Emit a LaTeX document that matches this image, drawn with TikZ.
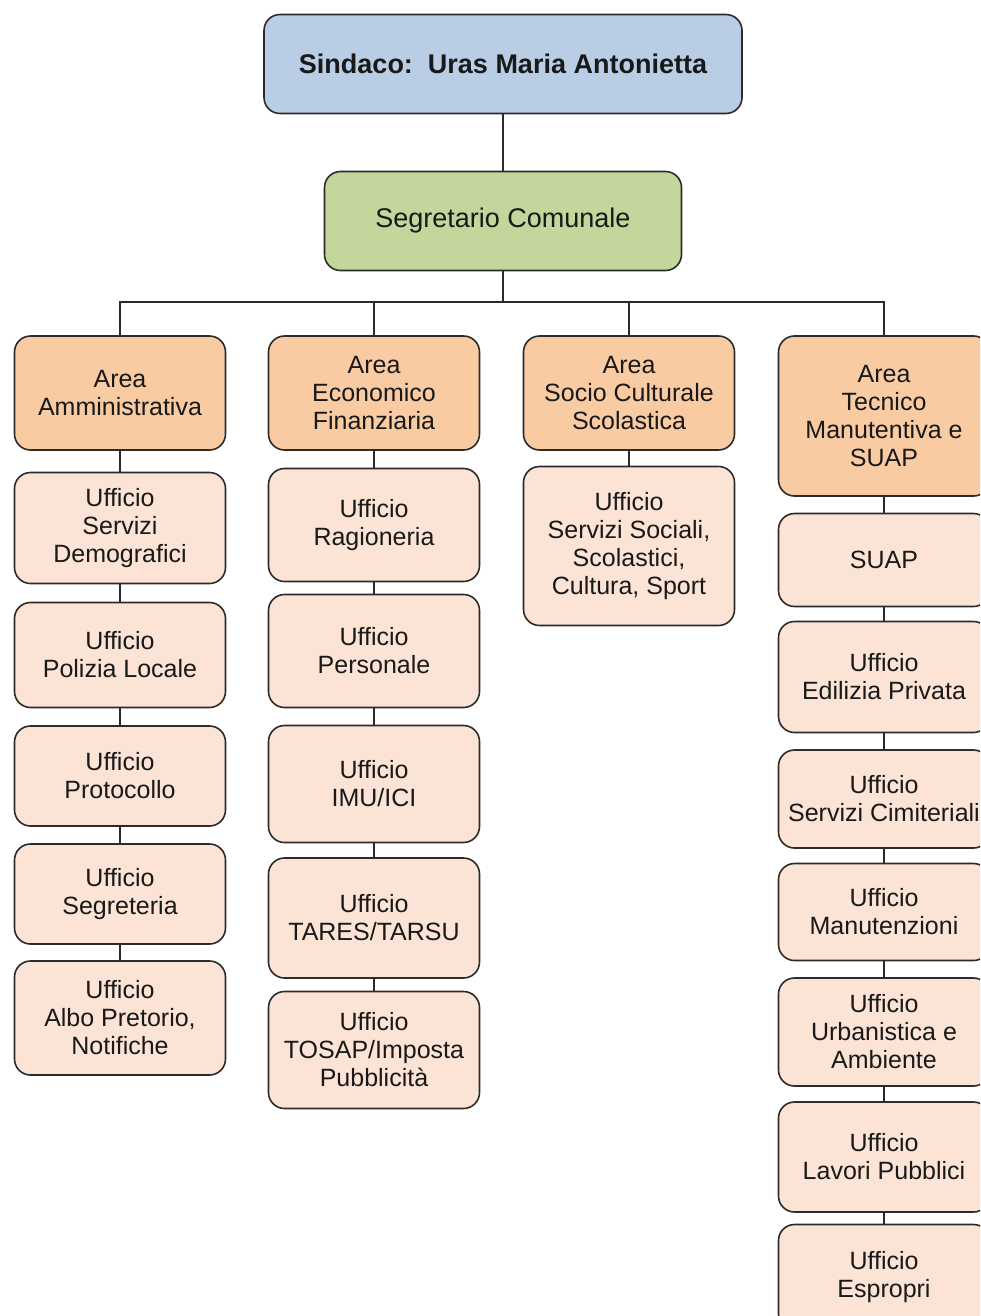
\documentclass[tikz,border=0pt]{standalone}
\usepackage{fontspec}
\setmainfont{Liberation Sans}
\usetikzlibrary{positioning}

\definecolor{sindblue}{HTML}{B9CDE5}
\definecolor{segrgreen}{HTML}{C3D69B}
\definecolor{areaorange}{HTML}{F9CBA3}
\definecolor{uffpeach}{HTML}{FBE4D5}
\definecolor{boxline}{HTML}{2B2B2B}

\tikzset{
	box/.style={draw=boxline, line width=1.6pt, rounded corners=16pt,
		align=center, text=black!90, inner sep=2pt,
		font=\fontsize{25}{28}\selectfont},
	area/.style={box, fill=areaorange, minimum width=211pt},
	uff/.style={box, fill=uffpeach, minimum width=211pt},
	link/.style={draw=boxline, line width=1.6pt}
}

\begin{document}
\begin{tikzpicture}[x=1pt, y=-1pt]
		\clip (0,0) rectangle (980,1316);
		\fill[white] (0,0) rectangle (980,1316);
		% vertice
		\node[box, fill=sindblue, minimum width=478pt, minimum height=99pt,
		      font=\bfseries\fontsize{27}{30}\selectfont] (sind) at (503,64) {Sindaco:\ \ Uras Maria Antonietta};
		\node[box, fill=segrgreen, minimum width=357pt, minimum height=99pt,
		      font=\fontsize{27}{30}\selectfont] (segr) at (503,221) {Segretario Comunale};
		\coordinate (bus) at (503,302);
		% aree
		\node[area, minimum height=114pt] (amm) at (120,393) {Area\\Amministrativa};
		\node[area, minimum height=114pt] (eco) at (374,393) {Area\\Economico\\Finanziaria};
		\node[area, minimum height=114pt] (soc) at (629,393) {Area\\Socio Culturale\\Scolastica};
		\node[area, minimum height=160pt] (tec) at (884,416) {Area\\Tecnico\\Manutentiva e\\SUAP};
		% uffici area amministrativa
		\node[uff, minimum height=111pt] (demo) at (120,528) {Ufficio\\Servizi\\Demografici};
		\node[uff, minimum height=105pt] (poli) at (120,655) {Ufficio\\Polizia Locale};
		\node[uff, minimum height=100pt] (prot) at (120,776) {Ufficio\\Protocollo};
		\node[uff, minimum height=100pt] (segt) at (120,894) {Ufficio\\Segreteria};
		\node[uff, minimum height=114pt] (albo) at (120,1018) {Ufficio\\Albo Pretorio,\\Notifiche};
		% uffici area economico finanziaria
		\node[uff, minimum height=113pt] (ragi) at (374,525) {Ufficio\\Ragioneria};
		\node[uff, minimum height=113pt] (pers) at (374,651) {Ufficio\\Personale};
		\node[uff, minimum height=117pt] (imu)  at (374,784) {Ufficio\\IMU/ICI};
		\node[uff, minimum height=120pt] (tares) at (374,918) {Ufficio\\TARES/TARSU};
		\node[uff, minimum height=117pt] (tosap) at (374,1050) {Ufficio\\TOSAP/Imposta\\Pubblicità};
		% uffici area socio culturale
		\node[uff, minimum height=159pt] (sociali) at (629,546) {Ufficio\\Servizi Sociali,\\Scolastici,\\Cultura, Sport};
		% uffici area tecnica
		\node[uff, minimum height=93pt]  (suap) at (884,560) {SUAP};
		\node[uff, minimum height=111pt] (edil) at (884,677) {Ufficio\\Edilizia Privata};
		\node[uff, minimum height=98pt]  (cimi) at (884,799) {Ufficio\\Servizi Cimiteriali};
		\node[uff, minimum height=97pt]  (manu) at (884,912) {Ufficio\\Manutenzioni};
		\node[uff, minimum height=108pt] (urba) at (884,1032) {Ufficio\\Urbanistica e\\Ambiente};
		\node[uff, minimum height=110pt] (lavo) at (884,1157) {Ufficio\\Lavori Pubblici};
		\node[uff, minimum height=105pt] (espr) at (884,1277) {Ufficio\\Espropri};

		\draw[link] (sind) -- (segr) -- (bus);
		\draw[link] (bus) -| (amm) (bus) -| (eco) (bus) -| (soc) (bus) -| (tec);
		\path[link]
		(amm)  edge (demo)
		(demo) edge (poli)
		(poli) edge (prot)
		(prot) edge (segt)
		(segt) edge (albo)
		(eco)  edge (ragi)
		(ragi) edge (pers)
		(pers) edge (imu)
		(imu)  edge (tares)
		(tares) edge (tosap)
		(soc)  edge (sociali)
		(tec)  edge (suap)
		(suap) edge (edil)
		(edil) edge (cimi)
		(cimi) edge (manu)
		(manu) edge (urba)
		(urba) edge (lavo)
		(lavo) edge (espr);
\end{tikzpicture}
\end{document}
